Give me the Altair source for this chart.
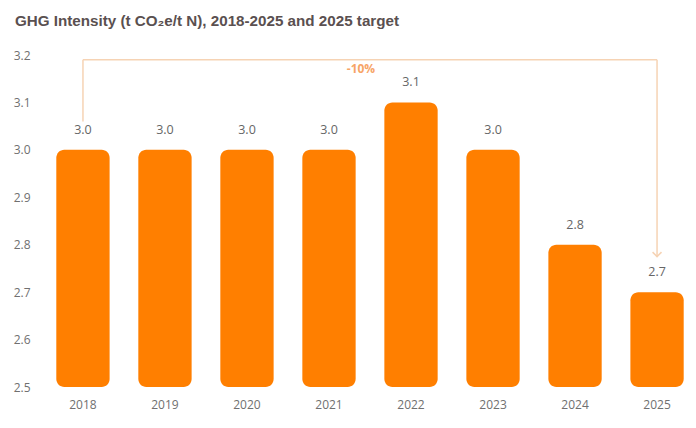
import altair as alt
import pandas as pd

years = ["2018", "2019", "2020", "2021", "2022", "2023", "2024", "2025"]
values = [3.0, 3.0, 3.0, 3.0, 3.1, 3.0, 2.8, 2.7]
y_ticks = [2.5, 2.6, 2.7, 2.8, 2.9, 3.0, 3.1, 3.2]

# bracket annotation (data units)
bracket_start_year = "2018"
bracket_end_year = "2025"
bracket_start_low = 3.06
bracket_top = 3.19
bracket_end_low = 2.775
change_label = "-10%"
change_label_year = "2021"
change_label_y = 3.17

ORANGE = "#FF7F00"
PEACH = "#F6D3B4"

df = pd.DataFrame({"year": years, "value": values, "base": [2.5] * len(years),
                   "label": [f"{v:.1f}" for v in values]})

xenc = alt.X("year:N", sort=years,
             scale=alt.Scale(paddingInner=0.35, paddingOuter=0.15),
             axis=alt.Axis(title=None, labelAngle=0, ticks=False, domain=False,
                           labelPadding=12, labelFontSize=12, labelColor="#707070",
                           labelFont="Open Sans"))
yscale = alt.Scale(domain=[2.5, 3.2], zero=False, nice=False)

bars = alt.Chart(df).mark_bar(color=ORANGE, cornerRadius=8).encode(
    x=xenc,
    y=alt.Y("value:Q", scale=yscale,
            axis=alt.Axis(title=None, values=y_ticks, format=".1f", grid=False,
                          ticks=False, domain=False, labelPadding=14,
                          labelFontSize=12, labelColor="#707070", labelFont="Open Sans")),
    y2="base:Q",
)

labels = alt.Chart(df).mark_text(dy=-13, baseline="bottom", fontSize=12.5,
                                 color="#666666", font="Open Sans").encode(
    x=alt.X("year:N", sort=years), y="value:Q", text="label:N")

seg = pd.DataFrame({
    "x": [bracket_start_year, bracket_start_year, bracket_end_year],
    "x2": [bracket_start_year, bracket_end_year, bracket_end_year],
    "y": [bracket_start_low, bracket_top, bracket_top],
    "y2": [bracket_top, bracket_top, bracket_end_low],
})
rules = alt.Chart(seg).mark_rule(color=PEACH, strokeWidth=1.5).encode(
    x=alt.X("x:N", sort=years), x2="x2:N", y="y:Q", y2="y2:Q")

arrow_df = pd.DataFrame({"x": [bracket_end_year], "y": [bracket_end_low]})
arrow = alt.Chart(arrow_df).mark_point(
    shape="M-1,-1L0,0L1,-1", filled=False, size=80, color=PEACH, strokeWidth=1.5,
    opacity=1).encode(x=alt.X("x:N", sort=years), y="y:Q")

txt_df = pd.DataFrame({"x": [change_label_year], "y": [change_label_y], "t": [change_label]})
pct = alt.Chart(txt_df).mark_text(color="#F7A466", fontSize=12, fontWeight="bold",
                                  font="Open Sans", dx=32).encode(
    x=alt.X("x:N", sort=years), y="y:Q", text="t:N")

chart = alt.layer(bars, labels, rules, arrow, pct).properties(
    width=652, height=332,
    autosize=alt.AutoSizeParams(type="none"),
    padding={"left": 44, "top": 55, "right": 0, "bottom": 41},
    title=alt.TitleParams("GHG Intensity (t CO₂e/t N), 2018-2025 and 2025 target",
                          anchor="start", frame="group", dx=-29, offset=20,
                          fontSize=15.2, font="Liberation Sans", fontWeight="bold",
                          color="#5A5050"),
).configure_view(stroke=None)

chart.save("out.html", embed_options={"renderer": "svg", "actions": False})
